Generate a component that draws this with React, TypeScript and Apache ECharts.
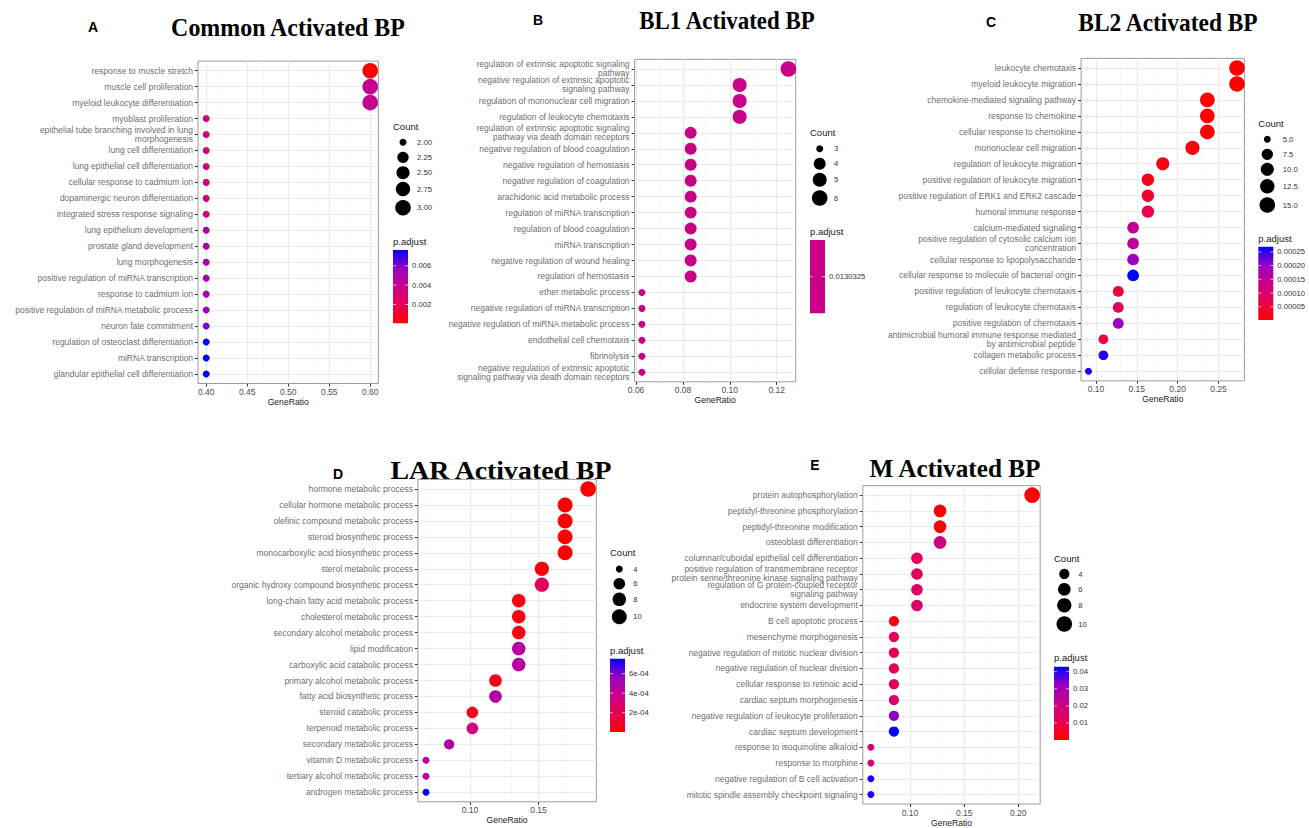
import React, { useEffect, useRef } from 'react';
import * as echarts from 'echarts';

// ---------------- DATA ----------------
const aTerms = [
  'response to muscle stretch', 'muscle cell proliferation', 'myeloid leukocyte differentiation', 'myoblast proliferation',
  'epithelial tube branching involved in lung\nmorphogenesis', 'lung cell differentiation', 'lung epithelial cell differentiation',
  'cellular response to cadmium ion', 'dopaminergic neuron differentiation', 'integrated stress response signaling',
  'lung epithelium development', 'prostate gland development', 'lung morphogenesis', 'positive regulation of miRNA transcription',
  'response to cadmium ion', 'positive regulation of miRNA metabolic process', 'neuron fate commitment',
  'regulation of osteoclast differentiation', 'miRNA transcription', 'glandular epithelial cell differentiation',
];
const aRatio = [0.6, 0.6, 0.6, 0.4, 0.4, 0.4, 0.4, 0.4, 0.4, 0.4, 0.4, 0.4, 0.4, 0.4, 0.4, 0.4, 0.4, 0.4, 0.4, 0.4];
const aCount = [3, 3, 3, 2, 2, 2, 2, 2, 2, 2, 2, 2, 2, 2, 2, 2, 2, 2, 2, 2];
const aPadj = [0.00006, 0.0041, 0.0041, 0.0036, 0.0036, 0.0036, 0.0036, 0.0036, 0.0036, 0.0037, 0.005, 0.005, 0.0051, 0.0053, 0.0053, 0.0054, 0.006, 0.00763, 0.00763, 0.00763];

const bTerms = [
  'regulation of extrinsic apoptotic signaling\npathway', 'negative regulation of extrinsic apoptotic\nsignaling pathway',
  'regulation of mononuclear cell migration', 'regulation of leukocyte chemotaxis',
  'regulation of extrinsic apoptotic signaling\npathway via death domain receptors', 'negative regulation of blood coagulation',
  'negative regulation of hemostasis', 'negative regulation of coagulation', 'arachidonic acid metabolic process',
  'regulation of miRNA transcription', 'regulation of blood coagulation', 'miRNA transcription',
  'negative regulation of wound healing', 'regulation of hemostasis', 'ether metabolic process',
  'negative regulation of miRNA transcription', 'negative regulation of miRNA metabolic process',
  'endothelial cell chemotaxis', 'fibrinolysis',
  'negative regulation of extrinsic apoptotic\nsignaling pathway via death domain receptors',
];
const bRatio = [0.125, 0.1042, 0.1042, 0.1042, 0.0833, 0.0833, 0.0833, 0.0833, 0.0833, 0.0833, 0.0833, 0.0833, 0.0833, 0.0833, 0.0625, 0.0625, 0.0625, 0.0625, 0.0625, 0.0625];
const bCount = [6, 5, 5, 5, 4, 4, 4, 4, 4, 4, 4, 4, 4, 4, 3, 3, 3, 3, 3, 3];
const bPadj = [0.0130325, 0.0130325, 0.0130325, 0.0130325, 0.0130325, 0.0130325, 0.0130325, 0.0130325, 0.0130325, 0.0130325, 0.0130325, 0.0130325, 0.0130325, 0.0130325, 0.0130325, 0.0130325, 0.0130325, 0.0130325, 0.0130325, 0.0130325];

const cTerms = [
  'leukocyte chemotaxis', 'myeloid leukocyte migration', 'chemokine-mediated signaling pathway', 'response to chemokine',
  'cellular response to chemokine', 'mononuclear cell migration', 'regulation of leukocyte migration',
  'positive regulation of leukocyte migration', 'positive regulation of ERK1 and ERK2 cascade', 'humoral immune response',
  'calcium-mediated signaling', 'positive regulation of cytosolic calcium ion\nconcentration',
  'cellular response to lipopolysaccharide', 'cellular response to molecule of bacterial origin',
  'positive regulation of leukocyte chemotaxis', 'regulation of leukocyte chemotaxis', 'positive regulation of chemotaxis',
  'antimicrobial humoral immune response mediated\nby antimicrobial peptide', 'collagen metabolic process', 'cellular defense response',
];
const cRatio = [0.2727, 0.2727, 0.2364, 0.2364, 0.2364, 0.2182, 0.1818, 0.1636, 0.1636, 0.1636, 0.1455, 0.1455, 0.1455, 0.1455, 0.1273, 0.1273, 0.1273, 0.1091, 0.1091, 0.0909];
const cCount = [15, 15, 13, 13, 13, 12, 10, 9, 9, 9, 8, 8, 8, 8, 7, 7, 7, 6, 6, 5];
const cPadj = [0.0000015, 0.0000015, 0.000004, 0.000004, 0.000005, 0.00001, 0.000015, 0.00002, 0.00004, 0.000067, 0.000148, 0.00015, 0.000194, 0.000269, 0.00005, 0.00008, 0.0002, 0.00006, 0.000255, 0.00026];

const dTerms = [
  'hormone metabolic process', 'cellular hormone metabolic process', 'olefinic compound metabolic process',
  'steroid biosynthetic process', 'monocarboxylic acid biosynthetic process', 'sterol metabolic process',
  'organic hydroxy compound biosynthetic process', 'long-chain fatty acid metabolic process', 'cholesterol metabolic process',
  'secondary alcohol metabolic process', 'lipid modification', 'carboxylic acid catabolic process',
  'primary alcohol metabolic process', 'fatty acid biosynthetic process', 'steroid catabolic process',
  'terpenoid metabolic process', 'secondary metabolic process', 'vitamin D metabolic process',
  'tertiary alcohol metabolic process', 'androgen metabolic process',
];
const dRatio = [0.1864, 0.1695, 0.1695, 0.1695, 0.1695, 0.1525, 0.1525, 0.1356, 0.1356, 0.1356, 0.1356, 0.1356, 0.1186, 0.1186, 0.1017, 0.1017, 0.0847, 0.0678, 0.0678, 0.0678];
const dCount = [11, 10, 10, 10, 10, 9, 9, 8, 8, 8, 8, 8, 7, 7, 6, 6, 5, 4, 4, 4];
const dPadj = [0.000003, 0.00001, 0.00001, 0.000015, 0.00002, 0.00003, 0.00022, 0.00004, 0.00004, 0.00005, 0.00045, 0.00045, 0.00006, 0.00046, 0.00007, 0.00033, 0.0005, 0.00045, 0.00045, 0.000753];

const eTerms = [
  'protein autophosphorylation', 'peptidyl-threonine phosphorylation', 'peptidyl-threonine modification',
  'osteoblast differentiation', 'columnar/cuboidal epithelial cell differentiation',
  'positive regulation of transmembrane receptor\nprotein serine/threonine kinase signaling pathway',
  'regulation of G protein-coupled receptor\nsignaling pathway', 'endocrine system development', 'B cell apoptotic process',
  'mesenchyme morphogenesis', 'negative regulation of mitotic nuclear division', 'negative regulation of nuclear division',
  'cellular response to retinoic acid', 'cardiac septum morphogenesis', 'negative regulation of leukocyte proliferation',
  'cardiac septum development', 'response to isoquinoline alkaloid', 'response to morphine',
  'negative regulation of B cell activation', 'mitotic spindle assembly checkpoint signaling',
];
const eRatio = [0.2128, 0.1277, 0.1277, 0.1277, 0.1064, 0.1064, 0.1064, 0.1064, 0.0851, 0.0851, 0.0851, 0.0851, 0.0851, 0.0851, 0.0851, 0.0851, 0.0638, 0.0638, 0.0638, 0.0638];
const eCount = [10, 6, 6, 6, 5, 5, 5, 5, 4, 4, 4, 4, 4, 4, 4, 4, 3, 3, 3, 3];
const ePadj = [0.00006, 0.001, 0.001, 0.02, 0.013, 0.014, 0.015, 0.016, 0.002, 0.011, 0.012, 0.012, 0.014, 0.016, 0.033, 0.0429, 0.018, 0.018, 0.041, 0.041];

// tick / legend labels
const aMajor = [0.4, 0.45, 0.5, 0.55, 0.6];
const aMinor = [0.425, 0.475, 0.525, 0.575];
const bMajor = [0.06, 0.08, 0.1, 0.12];
const bMinor = [0.07, 0.09, 0.11];
const cMajor = [0.1, 0.15, 0.2, 0.25];
const cMinor = [0.125, 0.175, 0.225, 0.275];
const dMajor = [0.1, 0.15];
const dMinor = [0.075, 0.125, 0.175];
const eMajor = [0.1, 0.15, 0.2];
const eMinor = [0.075, 0.125, 0.175];

const aSizeBreaks = [2, 2.25, 2.5, 2.75, 3];
const aSizeLabels = ['2.00', '2.25', '2.50', '2.75', '3.00'];
const bSizeBreaks = [3, 4, 5, 6];
const bSizeLabels = ['3', '4', '5', '6'];
const cSizeBreaks = [5, 7.5, 10, 12.5, 15];
const cSizeLabels = ['5.0', '7.5', '10.0', '12.5', '15.0'];
const dSizeBreaks = [4, 6, 8, 10];
const dSizeLabels = ['4', '6', '8', '10'];
const eSizeBreaks = [4, 6, 8, 10];
const eSizeLabels = ['4', '6', '8', '10'];

const aColorTicks = [0.002, 0.004, 0.006];
const aColorLabels = ['0.002', '0.004', '0.006'];
const bColorTicks = [0.0130325];
const bColorLabels = ['0.0130325'];
const cColorTicks = [0.00005, 0.0001, 0.00015, 0.0002, 0.00025];
const cColorLabels = ['0.00005', '0.00010', '0.00015', '0.00020', '0.00025'];
const dColorTicks = [0.0002, 0.0004, 0.0006];
const dColorLabels = ['2e-04', '4e-04', '6e-04'];
const eColorTicks = [0.01, 0.02, 0.03, 0.04];
const eColorLabels = ['0.01', '0.02', '0.03', '0.04'];

// ---------------- STYLE / LAYOUT ----------------
const GRAD = ['#FF0000', '#E80050', '#CA0089', '#9A00C3', '#0000FF'];
const DMIN = 7;
const DMAX = 15.6;
const SANS = "'Liberation Sans', Arial, sans-serif";
const SERIF = "'Liberation Serif', 'Times New Roman', serif";
const TITLE_SIZE = 26;
const LABEL_COLOR = '#404040';

const panels = [
  {
    terms: aTerms, ratio: aRatio, count: aCount, padj: aPadj, major: aMajor, minor: aMinor, fmt: (v: number) => v.toFixed(2),
    sizeBreaks: aSizeBreaks, sizeLabels: aSizeLabels, colorTicks: aColorTicks, colorLabels: aColorLabels,
    grid: { left: 198, top: 61.1, width: 180.4, height: 322.4 },
    leg: { x: 393, countY: 126, cx: 403, cys: [142.3, 157.3, 172.7, 189, 207.7], lx: 417, padjY: 241, barTop: 250 },
    letter: { t: 'A', x: 93, y: 27 }, title: { t: 'Common Activated BP', x: 288, y: 27, sx: 0.92 },
  },
  {
    terms: bTerms, ratio: bRatio, count: bCount, padj: bPadj, major: bMajor, minor: bMinor, fmt: (v: number) => v.toFixed(2),
    sizeBreaks: bSizeBreaks, sizeLabels: bSizeLabels, colorTicks: bColorTicks, colorLabels: bColorLabels,
    grid: { left: 634.6, top: 59.4, width: 161.1, height: 322.4 },
    leg: { x: 810, countY: 132.7, cx: 819.7, cys: [148.7, 163.7, 179.7, 198], lx: 834, padjY: 231, barTop: 240 },
    letter: { t: 'B', x: 538, y: 20 }, title: { t: 'BL1 Activated BP', x: 727, y: 20, sx: 0.88 },
  },
  {
    terms: cTerms, ratio: cRatio, count: cCount, padj: cPadj, major: cMajor, minor: cMinor, fmt: (v: number) => v.toFixed(2),
    sizeBreaks: cSizeBreaks, sizeLabels: cSizeLabels, colorTicks: cColorTicks, colorLabels: cColorLabels,
    grid: { left: 1081.1, top: 58.4, width: 163.3, height: 322.4 },
    leg: { x: 1258.3, countY: 123.3, cx: 1267.3, cys: [139.3, 154.3, 169.3, 186.3, 205], lx: 1282.7, padjY: 238.3, barTop: 246.7 },
    letter: { t: 'C', x: 991, y: 22 }, title: { t: 'BL2 Activated BP', x: 1168, y: 22, sx: 0.9 },
  },
  {
    terms: dTerms, ratio: dRatio, count: dCount, padj: dPadj, major: dMajor, minor: dMinor, fmt: (v: number) => v.toFixed(2),
    sizeBreaks: dSizeBreaks, sizeLabels: dSizeLabels, colorTicks: dColorTicks, colorLabels: dColorLabels,
    grid: { left: 417.9, top: 479.4, width: 178.4, height: 322.4 },
    leg: { x: 610, countY: 552.7, cx: 619.3, cys: [569, 583.7, 599.3, 616.7], lx: 633.3, padjY: 650, barTop: 658.7 },
    letter: { t: 'D', x: 338, y: 474 }, title: { t: 'LAR Activated BP', x: 501, y: 470, sx: 1.07 },
  },
  {
    terms: eTerms, ratio: eRatio, count: eCount, padj: ePadj, major: eMajor, minor: eMinor, fmt: (v: number) => v.toFixed(2),
    sizeBreaks: eSizeBreaks, sizeLabels: eSizeLabels, colorTicks: eColorTicks, colorLabels: eColorLabels,
    grid: { left: 862.8, top: 485.7, width: 177.4, height: 322.4 },
    leg: { x: 1054, countY: 558.3, cx: 1064.3, cys: [574, 589.3, 605.3, 624], lx: 1078.3, padjY: 657.3, barTop: 666.7 },
    letter: { t: 'E', x: 815, y: 465 }, title: { t: 'M Activated BP', x: 955, y: 468, sx: 0.97 },
  },
];

const BAR_W = 15;
const BAR_H = 73.3;

function sizeFn(c: number, lo: number, hi: number) {
  const t = hi > lo ? (c - lo) / (hi - lo) : 1;
  return DMIN + (DMAX - DMIN) * Math.sqrt(Math.max(0, t));
}

function txt(text: string, x: number, y: number, size: number, opts: any = {}) {
  return {
    type: 'text', x, y, silent: true,
    style: {
      text, fontSize: size, fontFamily: opts.family || SANS, fontWeight: opts.weight || 'normal',
      fill: opts.fill || '#1a1a1a', align: opts.align || 'left', verticalAlign: 'middle',
      textAlign: opts.align || 'left', textVerticalAlign: 'middle',
    },
    scaleX: opts.scaleX || 1,
  };
}

function buildOption() {
  const grids: any[] = [];
  const xAxes: any[] = [];
  const yAxes: any[] = [];
  const series: any[] = [];
  const visualMaps: any[] = [];
  const graphics: any[] = [];

  panels.forEach((p, k) => {
    const n = p.terms.length;
    const rMin = Math.min(...p.ratio);
    const rMax = Math.max(...p.ratio);
    const span = rMax - rMin;
    const xMin = rMin - 0.05 * span;
    const xMax = rMax + 0.05 * span;
    const cLo = Math.min(...p.count);
    const cHi = Math.max(...p.count);
    let pLo = Math.min(...p.padj);
    let pHi = Math.max(...p.padj);
    const single = pHi - pLo < 1e-12;
    if (single) { pLo = pLo * 0.5; pHi = pHi * 1.5; }
    const rows = p.terms.map((_, i) => n - i);

    grids.push({ ...p.grid, show: true, borderColor: '#9a9a9a', borderWidth: 1, backgroundColor: '#fff', containLabel: false });

    xAxes.push({
      type: 'value', gridIndex: k, min: xMin, max: xMax, splitLine: { show: false },
      axisLine: { show: false },
      axisTick: { show: true, customValues: p.major, length: 3, lineStyle: { color: '#333', width: 1 } },
      axisLabel: {
        customValues: p.major, formatter: (v: number) => p.fmt(v), fontSize: 8.5, color: '#4d4d4d', margin: 4, fontFamily: SANS,
        showMinLabel: true, showMaxLabel: true,
      },
      name: 'GeneRatio', nameLocation: 'middle', nameGap: 14,
      nameTextStyle: { fontSize: 8.6, color: '#1a1a1a', fontFamily: SANS },
    });
    yAxes.push({
      type: 'value', gridIndex: k, min: 0.4, max: n + 0.6, splitLine: { show: false },
      axisLine: { show: false },
      axisTick: { show: true, customValues: rows, length: 3, lineStyle: { color: '#333', width: 1 } },
      axisLabel: { show: false },
    });

    // grid lines through the axes' own scales
    const lines: any[] = [];
    p.minor.forEach((v) => lines.push({ xAxis: v, lineStyle: { color: '#f3f3f3', width: 0.7, type: 'solid' } }));
    p.major.forEach((v) => lines.push({ xAxis: v, lineStyle: { color: '#ebebeb', width: 1.1, type: 'solid' } }));
    rows.forEach((v) => lines.push({ yAxis: v, lineStyle: { color: '#ebebeb', width: 1.1, type: 'solid' } }));
    series.push({
      type: 'scatter', xAxisIndex: k, yAxisIndex: k, z: 1, silent: true, symbolSize: 0,
      data: p.ratio.map((r, i) => [r, rows[i]]),
      markLine: { z: 1, silent: true, symbol: ['none', 'none'], label: { show: false }, emphasis: { disabled: true }, data: lines, animation: false },
    });

    // category labels, placed at the panel's left edge through the axes
    series.push({
      type: 'scatter', xAxisIndex: k, yAxisIndex: k, z: 2, silent: true, symbolSize: 0.01,
      data: p.terms.map((t, i) => ({ value: [xMin, rows[i]], name: t })),
      label: {
        show: true, position: 'left', distance: 5, formatter: (d: any) => d.name,
        fontSize: 8.5, lineHeight: 9, color: LABEL_COLOR, fontFamily: SANS, align: 'right', verticalAlign: 'middle',
      },
      labelLayout: { hideOverlap: false },
    });

    const dataIdx = series.length;
    series.push({
      type: 'scatter', xAxisIndex: k, yAxisIndex: k, z: 10,
      data: p.ratio.map((r, i) => [r, rows[i], p.padj[i], p.count[i]]),
      symbolSize: (val: number[]) => sizeFn(val[3], cLo, cHi),
      itemStyle: { opacity: 1 },
    });
    visualMaps.push({
      type: 'continuous', show: false, seriesIndex: dataIdx, dimension: 2, min: pLo, max: pHi,
      inRange: { color: GRAD },
    });

    // titles
    graphics.push(txt(p.letter.t, p.letter.x, p.letter.y, 14, { weight: 'bold', align: 'center', fill: '#000' }));
    graphics.push(txt(p.title.t, p.title.x, p.title.y, TITLE_SIZE, { weight: 'bold', align: 'center', fill: '#000', family: SERIF, scaleX: p.title.sx }));

    // Count legend
    const L = p.leg;
    graphics.push(txt('Count', L.x, L.countY, 9.5, { fill: '#1a1a1a' }));
    p.sizeBreaks.forEach((c, i) => {
      graphics.push({ type: 'circle', silent: true, shape: { cx: L.cx, cy: L.cys[i], r: sizeFn(c, cLo, cHi) / 2 }, style: { fill: '#000' } });
      graphics.push(txt(p.sizeLabels[i], L.lx, L.cys[i], 7.7, { fill: '#333' }));
    });

    // p.adjust colour bar
    graphics.push(txt('p.adjust', L.x, L.padjY, 9.5, { fill: '#1a1a1a' }));
    const fill = single
      ? '#CA0089'
      : new echarts.graphic.LinearGradient(0, 0, 0, 1, GRAD.slice().reverse().map((c, i) => ({ offset: i / (GRAD.length - 1), color: c })));
    graphics.push({ type: 'rect', silent: true, shape: { x: L.x, y: L.barTop, width: BAR_W, height: BAR_H }, style: { fill } });
    p.colorTicks.forEach((v, i) => {
      const y = single ? L.barTop + BAR_H / 2 : L.barTop + BAR_H * (1 - (v - pLo) / (pHi - pLo));
      graphics.push({ type: 'line', silent: true, shape: { x1: L.x, y1: y, x2: L.x + 3, y2: y }, style: { stroke: '#fff', lineWidth: 0.8, opacity: 0.8 } });
      graphics.push({ type: 'line', silent: true, shape: { x1: L.x + BAR_W - 3, y1: y, x2: L.x + BAR_W, y2: y }, style: { stroke: '#fff', lineWidth: 0.8, opacity: 0.8 } });
      graphics.push(txt(p.colorLabels[i], L.x + BAR_W + 4, y, 7.7, { fill: '#333' }));
    });
  });

  return {
    animation: false,
    backgroundColor: '#fff',
    grid: grids,
    xAxis: xAxes,
    yAxis: yAxes,
    visualMap: visualMaps,
    series,
    graphic: graphics,
  };
}

export default function App() {
  const ref = useRef<HTMLDivElement>(null);
  useEffect(() => {
    if (!ref.current) return;
    const chart = echarts.init(ref.current, null, { renderer: 'svg' });
    chart.setOption(buildOption() as any);
    return () => chart.dispose();
  }, []);
  return <div ref={ref} style={{ position: 'fixed', left: 0, top: 0, width: 1309, height: 828, background: '#fff' }} />;
}
